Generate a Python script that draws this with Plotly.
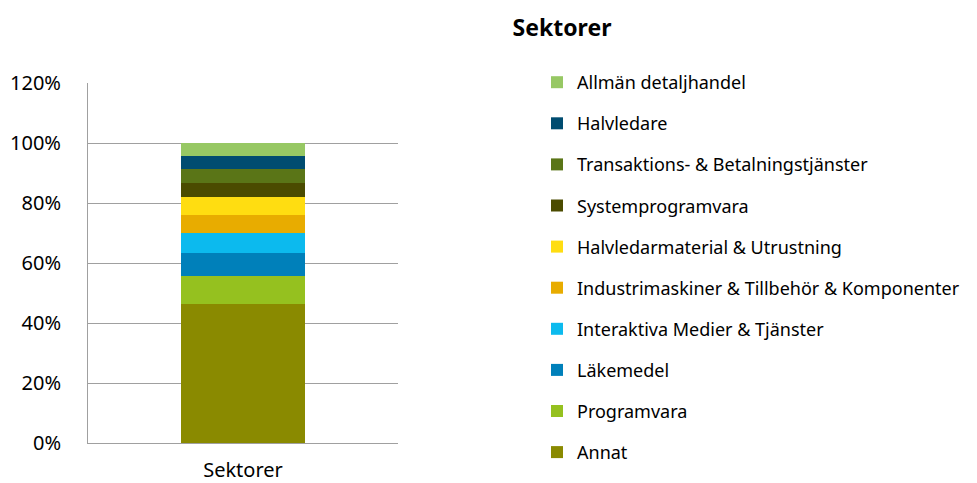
import plotly.graph_objects as go

categories = ["Sektorer"]
sectors = [
    "Annat",
    "Programvara",
    "Läkemedel",
    "Interaktiva Medier & Tjänster",
    "Industrimaskiner & Tillbehör & Komponenter",
    "Halvledarmaterial & Utrustning",
    "Systemprogramvara",
    "Transaktions- & Betalningstjänster",
    "Halvledare",
    "Allmän detaljhandel",
]
values = [46.5, 9.3, 7.7, 6.4, 6.2, 6.0, 4.7, 4.7, 4.3, 4.2]
colors = ["#8A8A00", "#95C11F", "#0080BA", "#0CBAEE", "#E8AC00",
          "#FFDD11", "#4B4B00", "#5A7517", "#004C70", "#97C864"]

fig = go.Figure()
n = len(sectors)
for i, (name, v, c) in enumerate(zip(sectors, values, colors)):
    fig.add_trace(go.Bar(
        x=categories, y=[v / 100], name=name, marker_color=c,
        marker_line_width=0, legendgroup=name, legendrank=n - i,
    ))

FONT = "Noto Sans"
fig.update_layout(
    barmode="stack",
    bargap=0.6,
    width=977, height=483,
    margin=dict(l=88, r=579, t=83, b=40, pad=0, autoexpand=False),
    paper_bgcolor="white", plot_bgcolor="white",
    font=dict(family=FONT, size=18, color="#000000"),
    title=dict(text="<b>Sektorer</b>", x=562 / 977, xanchor="center",
               y=1 - 28 / 483, yanchor="middle",
               font=dict(family=FONT, size=23, color="#000000")),
    legend=dict(
        xref="container", yref="container",
        x=537 / 977, xanchor="left",
        y=1 - 64 / 483, yanchor="top",
        traceorder="grouped", tracegroupgap=14.7,
        font=dict(family=FONT, size=18, color="#000000"),
        bgcolor="rgba(0,0,0,0)", maxheight=483,
    ),
    xaxis=dict(showline=True, linecolor="#A0A0A0", linewidth=1,
               ticks="", tickfont=dict(size=20), ticklabelstandoff=9),
    yaxis=dict(range=[0, 1.2], dtick=0.2, tickformat=".0%",
               showgrid=True, gridcolor="#A0A0A0", gridwidth=1,
               showline=True, linecolor="#A0A0A0", linewidth=1,
               zeroline=False, ticks="", ticklen=0,
               tickfont=dict(size=20), ticklabelstandoff=22),
)
fig.write_html("out.html", config={"displayModeBar": False},
               post_script="document.body.style.margin='0';")
